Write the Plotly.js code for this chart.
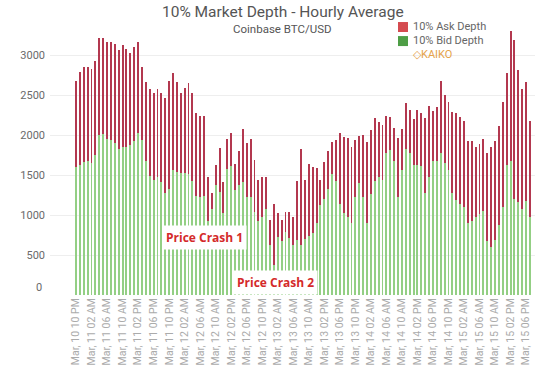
<!DOCTYPE html>
<html>
<head>
<meta charset="utf-8">
<script src="https://cdn.plot.ly/plotly-3.0.1.min.js"></script>
<style>html,body{margin:0;padding:0;background:#fff;}#chart{width:554px;height:383px;}</style>
</head>
<body>
<div id="chart"></div>
<script>
// Hourly bars, starting Mar 10 10 PM (one value per hour)
var bidDepth = [1600,1620,1660,1680,1650,1750,2000,2010,1950,1940,1900,1830,1850,1850,1880,1920,2030,1940,1670,1490,1440,1480,1410,1270,
  1330,1560,1540,1520,1520,1510,1430,1240,1230,1240,920,1080,1370,1290,1020,1580,1610,1310,1380,1410,1230,1230,1040,920,
  980,1080,630,370,730,670,790,710,620,690,630,700,740,770,900,1130,1200,1330,1510,1420,1140,1020,980,900,
  1230,1400,1230,900,1260,1420,1470,1440,1770,1810,1680,1220,1560,1830,1780,1630,1630,1610,1280,1470,1680,1670,1770,1650,
  1560,1270,1190,1140,1100,900,920,970,1010,1050,670,600,690,880,1100,1630,1680,1200,1160,1080,1180,970];
var askDepth = [1080,1170,1190,1170,1180,1170,1210,1200,1210,1220,1240,1230,1280,1220,1150,1180,1130,910,990,1080,1090,1100,1120,1190,
  1350,1220,1120,1010,1070,1140,1090,1030,1010,1000,560,190,250,550,390,370,410,330,420,670,670,720,650,520,
  490,390,310,770,290,270,250,330,360,740,1200,740,900,830,690,310,460,470,400,520,890,960,980,950,
  710,590,770,1010,800,790,690,690,470,410,410,740,520,570,530,570,680,670,930,890,620,680,900,850,
  850,1020,1080,1080,1080,1030,1010,880,880,900,1110,1250,1240,1230,1310,1150,1620,1990,1650,1500,1480,1210];
var tickLabels = ["Mar, 10 10 PM","Mar, 11 02 AM","Mar, 11 06 AM","Mar, 11 10 AM","Mar, 11 02 PM","Mar, 11 06 PM",
  "Mar, 11 10 PM","Mar, 12 02 AM","Mar, 12 06 AM","Mar, 12 10 AM","Mar, 12 02 PM","Mar, 12 06 PM",
  "Mar, 12 10 PM","Mar, 13 02 AM","Mar, 13 06 AM","Mar, 13 10 AM","Mar, 13 02 PM","Mar, 13 06 PM",
  "Mar, 13 10 PM","Mar, 14 02 AM","Mar, 14 06 AM","Mar, 14 10 AM","Mar, 14 02 PM","Mar, 14 06 PM",
  "Mar, 14 10 PM","Mar, 15 02 AM","Mar, 15 06 AM","Mar, 15 10 AM","Mar, 15 02 PM","Mar, 15 06 PM"];
var seriesNames = ["10% Ask Depth","10% Bid Depth"];
var yTicks = [500,1000,1500,2000,2500,3000];

var xIdx = bidDepth.map(function(_, i){ return i; });
var tickVals = tickLabels.map(function(_, i){ return i * 4; });

var bidColor = '#93cf84', askColor = '#b3384f';
var traces = [
  {type:'bar', x:xIdx, y:bidDepth, name:seriesNames[1], marker:{color:bidColor}, showlegend:false, hoverinfo:'y'},
  {type:'bar', x:xIdx, y:askDepth, name:seriesNames[0], marker:{color:askColor}, showlegend:false, hoverinfo:'y'}
];

var font = "Roboto, 'Open Sans', sans-serif";
var layout = {
  width:554, height:383,
  margin:{l:50, r:19, t:25, b:88},
  paper_bgcolor:'#fff', plot_bgcolor:'#fff',
  barmode:'stack', bargap:0.5,
  showlegend:false,
  font:{family:font, color:'#666', size:11},
  title:{text:'10% Market Depth - Hourly Average', font:{family:font, size:15.5, color:'#555'},
         xref:'paper', x:0.48, xanchor:'center', yref:'container', y:0.969, yanchor:'middle'},
  xaxis:{range:[-6.7, 118.3], tickmode:'array', tickvals:tickVals, ticktext:tickLabels,
         tickangle:-90, tickfont:{size:10.5, color:'#ababab', family:font}, showgrid:false,
         zeroline:false, showline:false, ticks:''},
  yaxis:{range:[0, 3375], tickmode:'array', tickvals:yTicks, tickfont:{size:11, color:'#6a6a6a', family:font},
         gridcolor:'#eeeeee', gridwidth:1, zeroline:false, showline:false, ticks:'', ticklabelstandoff:4},
  annotations:[
    {text:'Coinbase BTC/USD', xref:'paper', yref:'paper', x:0.48, y:0.985, showarrow:false,
     font:{family:font, size:11.5, color:'#555'}, xanchor:'center', yanchor:'middle'},
    {text:'0', xref:'paper', yref:'y', x:0, y:0, yshift:8, xshift:-6, showarrow:false, xanchor:'right', yanchor:'middle',
     font:{family:font, size:11, color:'#6a6a6a'}},
    {text:'<b>Price Crash 1</b>', xref:'x', yref:'y', x:33.2, y:725, showarrow:false,
     font:{family:"'Open Sans', sans-serif", size:12, color:'#d42a2a'}, bgcolor:'#ffffff', borderpad:3},
    {text:'<b>Price Crash 2</b>', xref:'x', yref:'y', x:51.5, y:162, showarrow:false,
     font:{family:"'Open Sans', sans-serif", size:12, color:'#d42a2a'}, bgcolor:'#ffffff', borderpad:3},
    {text:seriesNames[0], xref:'paper', yref:'paper', x:0.745, y:0.993, showarrow:false, xanchor:'left', yanchor:'middle',
     font:{family:font, size:11, color:'#666'}},
    {text:seriesNames[1], xref:'paper', yref:'paper', x:0.745, y:0.941, showarrow:false, xanchor:'left', yanchor:'middle',
     font:{family:font, size:11, color:'#666'}},
    {text:'◇KAIKO', xref:'paper', yref:'paper', x:0.745, y:0.889, showarrow:false, xanchor:'left', yanchor:'middle',
     font:{family:font, size:11, color:'#e5a24a'}}
  ],
  shapes:[
    {type:'rect', xref:'paper', yref:'paper', x0:0.7175, x1:0.7381, y0:0.974, y1:1.011, fillcolor:'#d54b50', line:{width:0}},
    {type:'rect', xref:'paper', yref:'paper', x0:0.7175, x1:0.7381, y0:0.922, y1:0.959, fillcolor:'#4e9e46', line:{width:0}}
  ]
};
Plotly.newPlot('chart', traces, layout, {displayModeBar:false, staticPlot:true});
</script>
</body>
</html>
